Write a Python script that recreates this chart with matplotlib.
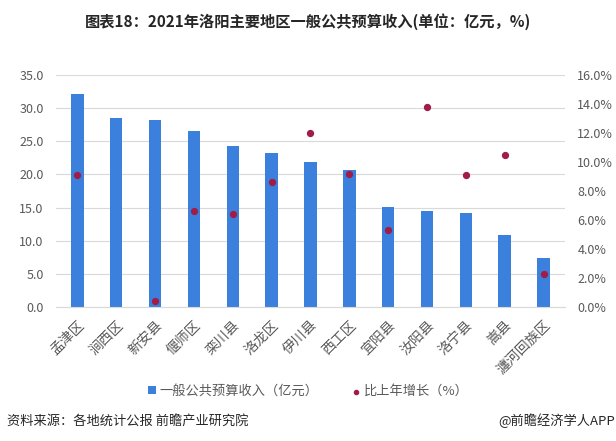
import matplotlib
matplotlib.use("Agg")
import matplotlib.pyplot as plt
import numpy as np

plt.rcParams['font.family'] = ['Noto Sans CJK SC', 'DejaVu Sans']

categories = ["孟津区", "涧西区", "新安县", "偃师区", "栾川县", "洛龙区", "伊川县",
              "西工区", "宜阳县", "汝阳县", "洛宁县", "嵩县", "瀍河回族区"]
revenue = [32.2, 28.5, 28.2, 26.6, 24.3, 23.3, 21.8, 20.7, 15.1, 14.5, 14.2, 10.8, 7.4]
growth = [9.1, np.nan, 0.4, 6.6, 6.4, 8.6, 12.0, 9.2, 5.3, 13.8, 9.1, 10.5, 2.3]
left_ticks = [0, 5, 10, 15, 20, 25, 30, 35]
right_ticks = [0, 2, 4, 6, 8, 10, 12, 14, 16]

bar_color = "#3A80DC"
dot_color = "#A11D48"
tick_color = "#595959"

fig = plt.figure(figsize=(6.16, 4.41), dpi=100)
ax = fig.add_axes([0.091, 0.304, 0.826, 0.526])
x = np.arange(len(categories))
b = ax.bar(x, revenue, width=0.32, color=bar_color, zorder=2)
ax.set_ylim(0, 35)
ax.set_yticks(left_ticks)
ax.set_yticklabels([f"{v:.1f}" for v in left_ticks])
ax.set_xlim(-0.55, len(categories) - 0.45)
ax.set_xticks(x)
ax.set_xticklabels(categories, rotation=45, ha="right", rotation_mode="anchor",
                   fontsize=10)
ax.grid(axis="y", color="#D9D9D9", linewidth=0.8, zorder=0)
for s in ax.spines.values():
    s.set_visible(False)
ax.spines['bottom'].set_visible(True)
ax.spines['bottom'].set_color("#D9D9D9")
ax.tick_params(axis="both", length=0, colors=tick_color, labelsize=9)
ax.tick_params(axis="x", pad=8, labelsize=10)
ax.tick_params(axis="y", pad=9)

ax2 = ax.twinx()
sc = ax2.scatter(x, growth, s=18, color=dot_color, zorder=3)
ax2.set_ylim(0, 16)
ax2.set_yticks(right_ticks)
ax2.set_yticklabels([f"{v:.1f}%" for v in right_ticks])
for s in ax2.spines.values():
    s.set_visible(False)
ax2.tick_params(axis="y", length=0, colors=tick_color, labelsize=9, pad=9)

fig.text(0.5, 0.95, "图表18：2021年洛阳主要地区一般公共预算收入(单位：亿元，%)",
         ha="center", va="center", fontsize=11, fontweight="bold", color="#262626")

fig.legend([b, sc], ["一般公共预算收入（亿元）", "比上年增长（%）"],
           loc="center", bbox_to_anchor=(0.5, 0.113), ncol=2, frameon=False,
           fontsize=9.5, labelcolor=tick_color, handlelength=0.6, handleheight=0.6,
           handletextpad=0.3, columnspacing=2.5, markerscale=0.7)

fig.text(0.012, 0.045, "资料来源：各地统计公报 前瞻产业研究院", ha="left", va="center",
         fontsize=9.5, color="#262626")
fig.text(0.998, 0.045, "@前瞻经济学人APP", ha="right", va="center",
         fontsize=9.5, color="#262626")

fig.savefig("out.png", dpi=100)
